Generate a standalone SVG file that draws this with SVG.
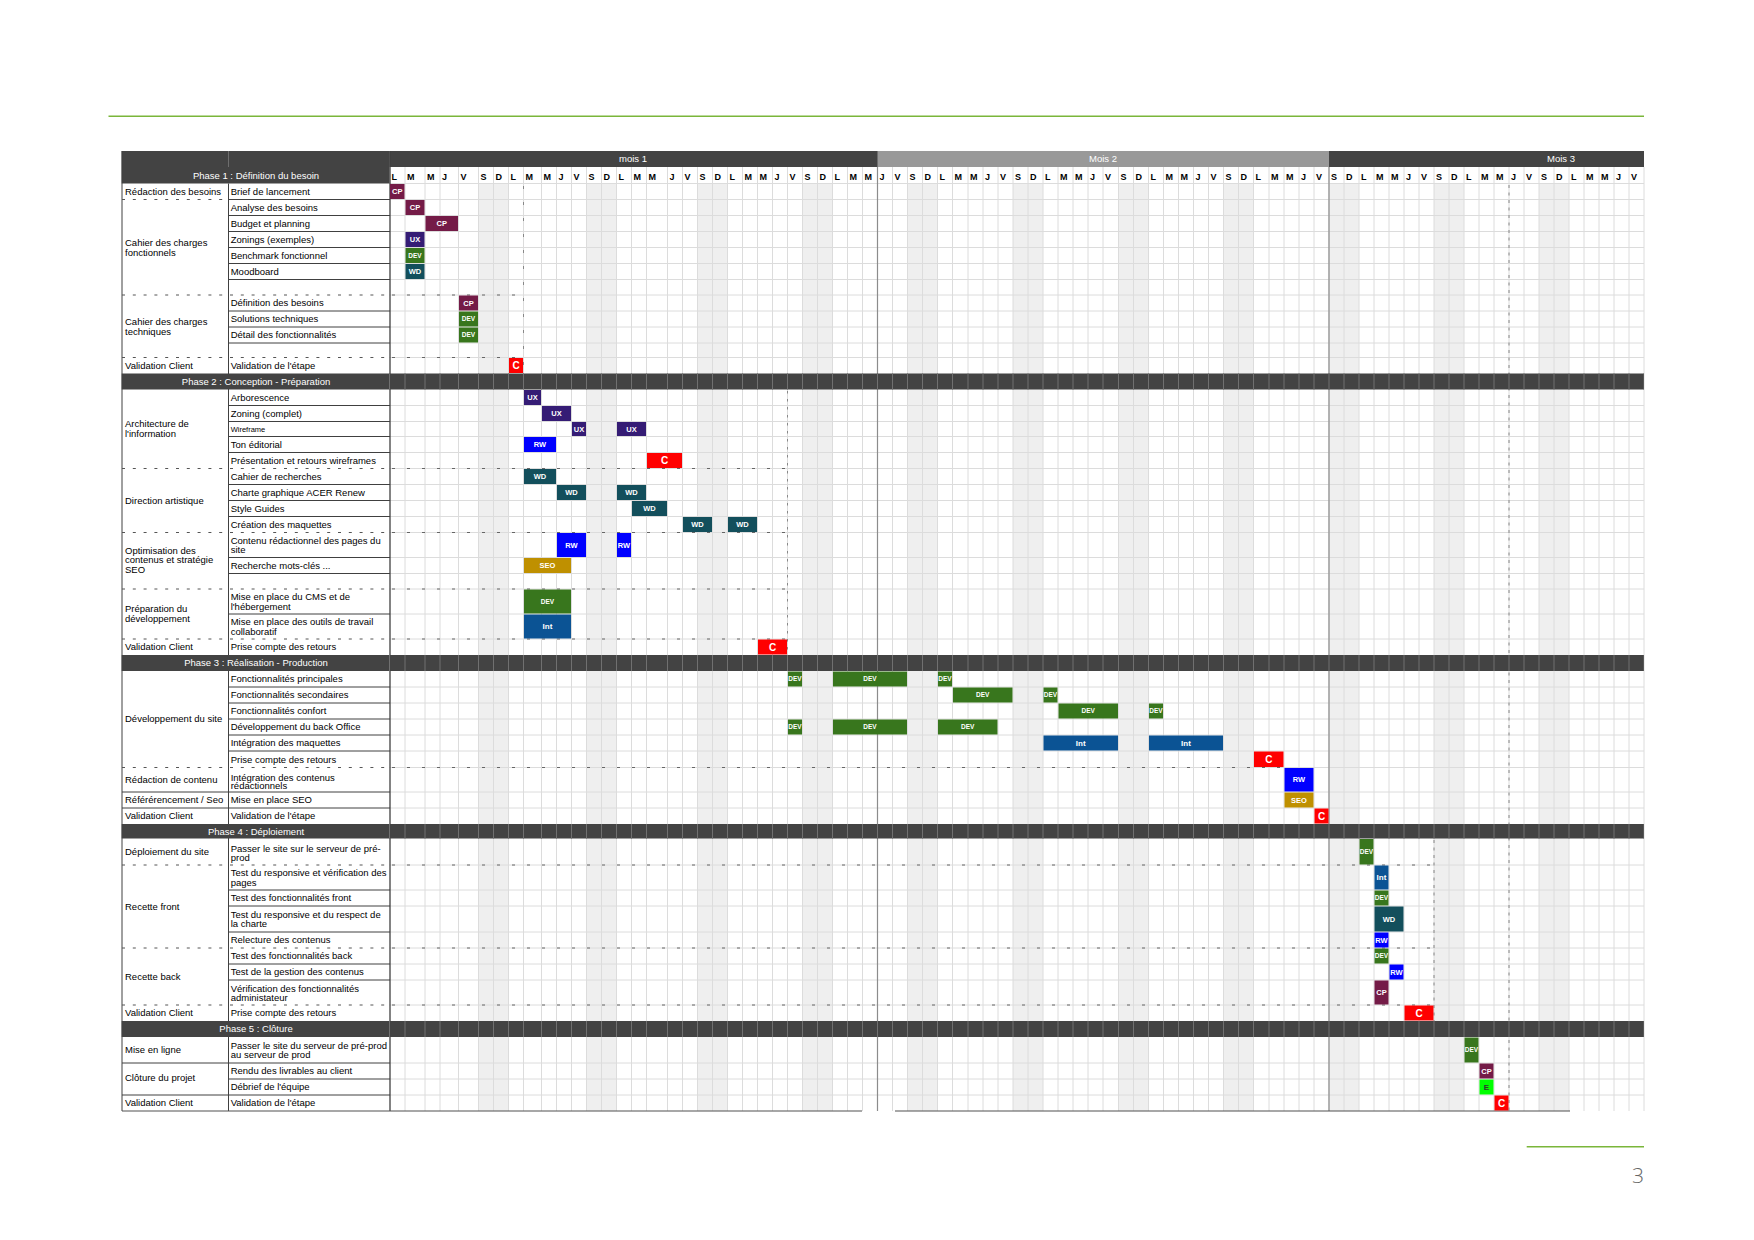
<svg xmlns="http://www.w3.org/2000/svg" xmlns:xlink="http://www.w3.org/1999/xlink" width="1754" height="1240" viewBox="0 0 1754 1240">
<style>
.t{font-family:"Liberation Sans",Arial,sans-serif;font-size:9.5px;fill:#000}
.h{font-family:"Liberation Sans",Arial,sans-serif;font-size:9.5px;fill:#fff;text-anchor:middle}
.d{font-family:"Liberation Sans",Arial,sans-serif;font-size:9px;font-weight:bold;fill:#000}
.lb{font-family:"Liberation Sans",Arial,sans-serif;font-weight:bold;fill:#fff;text-anchor:middle}
.l7{font-size:7.5px}.l6{font-size:6.5px}.l8{font-size:8px}.l10{font-size:10px}
.cp{fill:#741b47}.ux{fill:#351c75}.dv{fill:#38761d}.wd{fill:#134f5c}.rw{fill:#0000ff}.se{fill:#bf9000}.in{fill:#0b5394}.cc{fill:#ff0000}.ee{fill:#00ff00}
.band{fill:#434343}
.sol{stroke:#404040;stroke-width:1;fill:none}
.dc{stroke:#555;stroke-width:1;stroke-dasharray:3 7.8;fill:none}
.dg{stroke:#666;stroke-width:1;stroke-dasharray:3 12;fill:none}
.dv2{stroke:#888;stroke-width:1;fill:none}
</style>
<defs>
<path id="vg" d="M405 167V1111M425 167V1111M440 167V1111M458.5 167V1111M478.5 167V1111M493.5 167V1111M508.5 167V1111M523.5 167V1111M541.5 167V1111M556.5 167V1111M571.5 167V1111M586.5 167V1111M601.5 167V1111M616.5 167V1111M631.5 167V1111M646.5 167V1111M667.5 167V1111M682.5 167V1111M697.5 167V1111M712.5 167V1111M727.5 167V1111M742.5 167V1111M757.5 167V1111M772.5 167V1111M787.5 167V1111M802.5 167V1111M817.5 167V1111M832.5 167V1111M847.5 167V1111M862.5 167V1111M877.5 167V1111M892.5 167V1111M907.5 167V1111M922.5 167V1111M937.5 167V1111M952.5 167V1111M968 167V1111M983 167V1111M998 167V1111M1013 167V1111M1028 167V1111M1043 167V1111M1058 167V1111M1073 167V1111M1088 167V1111M1103 167V1111M1118.5 167V1111M1133.5 167V1111M1148.5 167V1111M1163.5 167V1111M1178.5 167V1111M1193.5 167V1111M1208.5 167V1111M1223.5 167V1111M1238.5 167V1111M1253.5 167V1111M1269 167V1111M1284 167V1111M1299 167V1111M1314 167V1111M1329 167V1111M1344 167V1111M1359 167V1111M1374 167V1111M1389 167V1111M1404 167V1111M1419 167V1111M1434 167V1111M1449 167V1111M1464 167V1111M1479 167V1111M1494 167V1111M1509 167V1111M1524 167V1111M1539 167V1111M1554 167V1111M1569 167V1111M1584 167V1111M1599 167V1111M1614 167V1111M1629 167V1111M1644 167V1111"/>
<clipPath id="bandclip">
<rect x="390" y="373.5" width="1254" height="16"/>
<rect x="390" y="655" width="1254" height="16"/>
<rect x="390" y="824" width="1254" height="14.5"/>
<rect x="390" y="1021" width="1254" height="16"/>
</clipPath>
</defs>
<rect x="0" y="0" width="1754" height="1240" fill="#fff"/>

<!-- page decoration -->
<line x1="108.5" y1="116.3" x2="1644" y2="116.3" stroke="#7ab63a" stroke-width="1.6"/>
<line x1="1526.7" y1="1146.7" x2="1644" y2="1146.7" stroke="#7ab63a" stroke-width="1.6"/>
<text x="1644" y="1183" text-anchor="end" font-family="Open Sans, Liberation Sans, sans-serif" font-weight="300" font-size="21" fill="#666">3</text>

<!-- weekends -->
<g id="weekends" fill="#efefef">
<rect x="478.5" y="183.5" width="30" height="927.5"/>
<rect x="586.5" y="183.5" width="30" height="927.5"/>
<rect x="697.5" y="183.5" width="30" height="927.5"/>
<rect x="802.5" y="183.5" width="30" height="927.5"/>
<rect x="907.5" y="183.5" width="30" height="927.5"/>
<rect x="1013" y="183.5" width="30" height="927.5"/>
<rect x="1118.5" y="183.5" width="30" height="927.5"/>
<rect x="1223.5" y="183.5" width="30" height="927.5"/>
<rect x="1329" y="183.5" width="30" height="927.5"/>
<rect x="1434" y="183.5" width="30" height="927.5"/>
<rect x="1539" y="183.5" width="30" height="927.5"/>
</g>

<!-- grid -->
<g id="grid">
<path stroke="#dcdcdc" stroke-width="1" fill="none" d="M389.5 183.5H1644M389.5 199.5H1644M389.5 215.5H1644M389.5 231.5H1644M389.5 247.5H1644M389.5 263.5H1644M389.5 279.5H1644M389.5 295H1644M389.5 311H1644M389.5 327H1644M389.5 343H1644M389.5 357.5H1644M389.5 405.5H1644M389.5 421.5H1644M389.5 436.5H1644M389.5 452.5H1644M389.5 468.5H1644M389.5 484.5H1644M389.5 500.5H1644M389.5 516.5H1644M389.5 532.5H1644M389.5 557.5H1644M389.5 573.5H1644M389.5 589H1644M389.5 614H1644M389.5 639H1644M389.5 687H1644M389.5 703H1644M389.5 719H1644M389.5 735H1644M389.5 751H1644M389.5 767.5H1644M389.5 792H1644M389.5 808H1644M389.5 865H1644M389.5 890H1644M389.5 906H1644M389.5 932H1644M389.5 948H1644M389.5 964H1644M389.5 980H1644M389.5 1005H1644M389.5 1063H1644M389.5 1079H1644M389.5 1095H1644"/>
<use xlink:href="#vg" href="#vg" stroke="#dcdcdc" stroke-width="1" fill="none"/>
<path stroke="#8c8c8c" stroke-width="1.2" d="M877.5 167V1111M1329 167V1111"/>
</g>

<!-- header -->
<g id="header">
<rect class="band" x="121.7" y="151" width="1522.3" height="16"/>
<rect x="877.5" y="151" width="451.5" height="16" fill="#999"/>
<path stroke="#6e6e6e" d="M228.5 151V167M389.5 151V167"/>
<rect class="band" x="121.7" y="167" width="267.8" height="16.5"/>
<text class="h" x="633" y="162.3">mois 1</text>
<text class="h" x="1103" y="162.3">Mois 2</text>
<text class="h" x="1561" y="162.3">Mois 3</text>
<text class="h" x="256" y="178.7">Phase 1 : Définition du besoin</text>
<text class="d" y="179.5" x="391.5 407 427 442 460.5 480.5 495.5 510.5 525.5 543.5 558.5 573.5 588.5 603.5 618.5 633.5 648.5 669.5 684.5 699.5 714.5 729.5 744.5 759.5 774.5 789.5 804.5 819.5 834.5 849.5 864.5">LMMJVSDLMMJVSDLMMJVSDLMMJVSDLMM</text>
<text class="d" y="179.5" x="879.5 894.5 909.5 924.5 939.5 954.5 970 985 1000 1015 1030 1045 1060 1075 1090 1105 1120.5 1135.5 1150.5 1165.5 1180.5 1195.5 1210.5 1225.5 1240.5 1255.5 1271 1286 1301 1316">JVSDLMMJVSDLMMJVSDLMMJVSDLMMJV</text>
<text class="d" y="179.5" x="1331 1346 1361 1376 1391 1406 1421 1436 1451 1466 1481 1496 1511 1526 1541 1556 1571 1586 1601 1616 1631">SDLMMJVSDLMMJVSDLMMJV</text>
</g>

<!-- left table lines -->
<g id="table-lines">
<path class="sol" d="M122 151V1111M228.5 183.5V1111"/>
<path stroke="#404040" stroke-width="1.3" d="M390 151V1111"/>
<path class="sol" d="M228.5 199.5H390M228.5 215.5H390M228.5 231.5H390M228.5 247.5H390M228.5 263.5H390M228.5 279.5H390M228.5 311H390M228.5 327H390M228.5 343H390M228.5 405.5H390M228.5 421.5H390M228.5 436.5H390M228.5 452.5H390M228.5 484.5H390M228.5 500.5H390M228.5 516.5H390M228.5 557.5H390M228.5 573.5H390M228.5 614H390M228.5 687H390M228.5 703H390M228.5 719H390M228.5 735H390M228.5 751H390M122 792H390M122 808H390M228.5 890H390M228.5 906H390M228.5 932H390M228.5 964H390M228.5 980H390M122 1063H390M228.5 1079H390M122 1095H390"/>
<path stroke="#505050" stroke-width="1.2" d="M122 1111H862M895 1111H1570"/>
<path class="dc" d="M122 199.5H228.5M122 295H390M122 357.5H390M122 468.5H390M122 532.5H390M122 589H390M122 639H390M122 767.5H390M122 865H390M122 948H390M122 1005H390"/>
<path class="dg" d="M392 295H523.5M392 357.5H523.5M392 468.5H787.5M392 532.5H787.5M392 589H787.5M392 639H787.5M392 767.5H1284M392 865H1434M392 948H1434M392 1005H1434"/>
<path class="dv2" stroke-dasharray="3 13" d="M523.5 186V373.5"/>
<path class="dv2" stroke-dasharray="2.5 5.5" d="M787.5 391V655"/>
<path class="dv2" stroke-dasharray="3 4.5" d="M1434 840V1021M1509 185V1111"/>
</g>

<!-- phase bands -->
<g id="phase-bands">
<rect class="band" x="121.7" y="373.5" width="1522.3" height="16"/>
<rect class="band" x="121.7" y="655" width="1522.3" height="16"/>
<rect class="band" x="121.7" y="824" width="1522.3" height="14.5"/>
<rect class="band" x="121.7" y="1021" width="1522.3" height="16"/>
<use xlink:href="#vg" href="#vg" stroke="#707070" stroke-width="1" fill="none" clip-path="url(#bandclip)"/>
<path stroke="#707070" d="M389.5 373.5V389.5M389.5 655V671M389.5 824V838.5M389.5 1021V1037"/>
<text class="h" x="256" y="384.9">Phase 2 : Conception - Préparation</text>
<text class="h" x="256" y="666.4">Phase 3 : Réalisation - Production</text>
<text class="h" x="256" y="834.6">Phase 4 : Déploiement</text>
<text class="h" x="256" y="1032.4">Phase 5 : Clôture</text>
</g>

<!-- group labels (col 1) -->
<g id="groups">
<text class="t" x="125" y="195">Rédaction des besoins</text>
<text class="t" x="125" y="245.6">Cahier des charges<tspan x="125" y="255.6">fonctionnels</tspan></text>
<text class="t" x="125" y="324.6">Cahier des charges<tspan x="125" y="334.6">techniques</tspan></text>
<text class="t" x="125" y="369">Validation Client</text>
<text class="t" x="125" y="426.7">Architecture de<tspan x="125" y="436.7">l'information</tspan></text>
<text class="t" x="125" y="503.5">Direction artistique</text>
<text class="t" x="125" y="553.7">Optimisation des<tspan x="125" y="563.2">contenus et stratégie</tspan><tspan x="125" y="572.7">SEO</tspan></text>
<text class="t" x="125" y="612">Préparation du<tspan x="125" y="622">développement</tspan></text>
<text class="t" x="125" y="650.4">Validation Client</text>
<text class="t" x="125" y="722.4">Développement du site</text>
<text class="t" x="125" y="783.2">Rédaction de contenu</text>
<text class="t" x="125" y="803.4">Référérencement / Seo</text>
<text class="t" x="125" y="819.4">Validation Client</text>
<text class="t" x="125" y="855.1">Déploiement du site</text>
<text class="t" x="125" y="910">Recette front</text>
<text class="t" x="125" y="979.8">Recette back</text>
<text class="t" x="125" y="1016.4">Validation Client</text>
<text class="t" x="125" y="1053.4">Mise en ligne</text>
<text class="t" x="125" y="1081.4">Clôture du projet</text>
<text class="t" x="125" y="1106.4">Validation Client</text>
</g>

<!-- task labels (col 2) -->
<g id="tasks">
<text class="t" x="230.7" y="194.9">Brief de lancement</text>
<text class="t" x="230.7" y="210.9">Analyse des besoins</text>
<text class="t" x="230.7" y="226.9">Budget et planning</text>
<text class="t" x="230.7" y="242.9">Zonings (exemples)</text>
<text class="t" x="230.7" y="258.9">Benchmark fonctionnel</text>
<text class="t" x="230.7" y="274.9">Moodboard</text>
<text class="t" x="230.7" y="306.4">Définition des besoins</text>
<text class="t" x="230.7" y="322.4">Solutions techniques</text>
<text class="t" x="230.7" y="338.4">Détail des fonctionnalités</text>
<text class="t" x="230.7" y="368.9">Validation de l'étape</text>
<text class="t" x="230.7" y="400.9">Arborescence</text>
<text class="t" x="230.7" y="416.9">Zoning (complet)</text>
<text class="t" x="230.7" y="431.6" style="font-size:7.5px">Wireframe</text>
<text class="t" x="230.7" y="447.9">Ton éditorial</text>
<text class="t" x="230.7" y="463.9">Présentation et retours wireframes</text>
<text class="t" x="230.7" y="479.9">Cahier de recherches</text>
<text class="t" x="230.7" y="495.9">Charte graphique ACER Renew</text>
<text class="t" x="230.7" y="511.9">Style Guides</text>
<text class="t" x="230.7" y="527.9">Création des maquettes</text>
<text class="t" x="230.7" y="544">Contenu rédactionnel des pages du<tspan x="230.7" y="553.4">site</tspan></text>
<text class="t" x="230.7" y="568.9">Recherche mots-clés ...</text>
<text class="t" x="230.7" y="600.1">Mise en place du CMS et de<tspan x="230.7" y="610">l'hébergement</tspan></text>
<text class="t" x="230.7" y="625.2">Mise en place des outils de travail<tspan x="230.7" y="634.8">collaboratif</tspan></text>
<text class="t" x="230.7" y="650.4">Prise compte des retours</text>
<text class="t" x="230.7" y="682.4">Fonctionnalités principales</text>
<text class="t" x="230.7" y="698.4">Fonctionnalités secondaires</text>
<text class="t" x="230.7" y="714.4">Fonctionnalités confort</text>
<text class="t" x="230.7" y="730.4">Développement du back Office</text>
<text class="t" x="230.7" y="746.4">Intégration des maquettes</text>
<text class="t" x="230.7" y="762.6">Prise compte des retours</text>
<text class="t" x="230.7" y="780.7">Intégration des contenus<tspan x="230.7" y="788.5">rédactionnels</tspan></text>
<text class="t" x="230.7" y="803.4">Mise en place SEO</text>
<text class="t" x="230.7" y="819.4">Validation de l'étape</text>
<text class="t" x="230.7" y="851.5">Passer le site sur le serveur de pré-<tspan x="230.7" y="860.9">prod</tspan></text>
<text class="t" x="230.7" y="876.2">Test du responsive et vérification des<tspan x="230.7" y="885.8">pages</tspan></text>
<text class="t" x="230.7" y="901.4">Test des fonctionnalités front</text>
<text class="t" x="230.7" y="918">Test du responsive et du respect de<tspan x="230.7" y="927.4">la charte</tspan></text>
<text class="t" x="230.7" y="943.4">Relecture des contenus</text>
<text class="t" x="230.7" y="959.4">Test des fonctionnalités back</text>
<text class="t" x="230.7" y="975.4">Test de la gestion des contenus</text>
<text class="t" x="230.7" y="991.8">Vérification des fonctionnalités<tspan x="230.7" y="1001.2">administateur</tspan></text>
<text class="t" x="230.7" y="1016.4">Prise compte des retours</text>
<text class="t" x="230.7" y="1049">Passer le site du serveur de pré-prod<tspan x="230.7" y="1058.2">au serveur de prod</tspan></text>
<text class="t" x="230.7" y="1074.4">Rendu des livrables au client</text>
<text class="t" x="230.7" y="1090.4">Débrief de l'équipe</text>
<text class="t" x="230.7" y="1106.4">Validation de l'étape</text>
</g>

<!-- bars -->
<g id="bar-brief"><rect class="cp" x="390" y="184" width="14.5" height="15"/><text class="lb l7" x="397.25" y="194.2">CP</text></g>
<g id="bar-analyse"><rect class="cp" x="405.5" y="200" width="19" height="15"/><text class="lb l7" x="415" y="210.2">CP</text></g>
<g id="bar-budget"><rect class="cp" x="425.5" y="216" width="32.5" height="15"/><text class="lb l7" x="441.75" y="226.2">CP</text></g>
<g id="bar-zonings"><rect class="ux" x="405.5" y="232" width="19" height="15"/><text class="lb l7" x="415" y="242.2">UX</text></g>
<g id="bar-benchmark"><rect class="dv" x="405.5" y="248" width="19" height="15"/><text class="lb l6" x="415" y="257.8">DEV</text></g>
<g id="bar-moodboard"><rect class="wd" x="405.5" y="264" width="19" height="15"/><text class="lb l7" x="415" y="274.2">WD</text></g>
<g id="bar-definition"><rect class="cp" x="459" y="295.5" width="19" height="15"/><text class="lb l7" x="468.5" y="305.7">CP</text></g>
<g id="bar-solutions"><rect class="dv" x="459" y="311.5" width="19" height="15"/><text class="lb l6" x="468.5" y="321.3">DEV</text></g>
<g id="bar-detail"><rect class="dv" x="459" y="327.5" width="19" height="15"/><text class="lb l6" x="468.5" y="337.3">DEV</text></g>
<g id="bar-valid1"><rect class="cc" x="509" y="358" width="14" height="15"/><text class="lb l10" x="516" y="369.1">C</text></g>

<g id="bar-arbo"><rect class="ux" x="524" y="390" width="17" height="15"/><text class="lb l7" x="532.5" y="400.2">UX</text></g>
<g id="bar-zoning"><rect class="ux" x="542" y="406" width="29" height="15"/><text class="lb l7" x="556.5" y="416.2">UX</text></g>
<g id="bar-wire1"><rect class="ux" x="572" y="422" width="14" height="14"/><text class="lb l7" x="579" y="431.7">UX</text></g>
<g id="bar-wire2"><rect class="ux" x="617" y="422" width="29" height="14"/><text class="lb l7" x="631.5" y="431.7">UX</text></g>
<g id="bar-ton"><rect class="rw" x="524" y="437" width="32" height="15"/><text class="lb l7" x="540" y="447.2">RW</text></g>
<g id="bar-pres"><rect class="cc" x="647" y="453" width="35" height="15"/><text class="lb l10" x="664.5" y="464.1">C</text></g>
<g id="bar-cahier"><rect class="wd" x="524" y="469" width="32" height="15"/><text class="lb l7" x="540" y="479.2">WD</text></g>
<g id="bar-charte1"><rect class="wd" x="557" y="485" width="29" height="15"/><text class="lb l7" x="571.5" y="495.2">WD</text></g>
<g id="bar-charte2"><rect class="wd" x="617" y="485" width="29" height="15"/><text class="lb l7" x="631.5" y="495.2">WD</text></g>
<g id="bar-style"><rect class="wd" x="632" y="501" width="35" height="15"/><text class="lb l7" x="649.5" y="511.2">WD</text></g>
<g id="bar-crea1"><rect class="wd" x="683" y="517" width="29" height="15"/><text class="lb l7" x="697.5" y="527.2">WD</text></g>
<g id="bar-crea2"><rect class="wd" x="728" y="517" width="29" height="15"/><text class="lb l7" x="742.5" y="527.2">WD</text></g>
<g id="bar-contenu1"><rect class="rw" x="557" y="533" width="29" height="24"/><text class="lb l7" x="571.5" y="547.7">RW</text></g>
<g id="bar-contenu2"><rect class="rw" x="617" y="533" width="14" height="24"/><text class="lb l7" x="624" y="547.7">RW</text></g>
<g id="bar-seo1"><rect class="se" x="524" y="558" width="47" height="15"/><text class="lb l7" x="547.5" y="568.2">SEO</text></g>
<g id="bar-cms"><rect class="dv" x="524" y="589.5" width="47" height="24"/><text class="lb l6" x="547.5" y="603.8">DEV</text></g>
<g id="bar-outils"><rect class="in" x="524" y="614.5" width="47" height="24"/><text class="lb l8" x="547.5" y="629.4">Int</text></g>
<g id="bar-prise2"><rect class="cc" x="758" y="639.5" width="29" height="15"/><text class="lb l10" x="772.5" y="650.6">C</text></g>

<g id="bar-fp1"><rect class="dv" x="788" y="671.5" width="14" height="15"/><text class="lb l6" x="795" y="681.3">DEV</text></g>
<g id="bar-fp2"><rect class="dv" x="833" y="671.5" width="74" height="15"/><text class="lb l6" x="870" y="681.3">DEV</text></g>
<g id="bar-fp3"><rect class="dv" x="938" y="671.5" width="14" height="15"/><text class="lb l6" x="945" y="681.3">DEV</text></g>
<g id="bar-fs1"><rect class="dv" x="953" y="687.5" width="59.5" height="15"/><text class="lb l6" x="982.75" y="697.3">DEV</text></g>
<g id="bar-fs2"><rect class="dv" x="1043.5" y="687.5" width="14" height="15"/><text class="lb l6" x="1050.5" y="697.3">DEV</text></g>
<g id="bar-fc1"><rect class="dv" x="1058.5" y="703.5" width="59.5" height="15"/><text class="lb l6" x="1088.25" y="713.3">DEV</text></g>
<g id="bar-fc2"><rect class="dv" x="1149" y="703.5" width="14" height="15"/><text class="lb l6" x="1156" y="713.3">DEV</text></g>
<g id="bar-bo1"><rect class="dv" x="788" y="719.5" width="14" height="15"/><text class="lb l6" x="795" y="729.3">DEV</text></g>
<g id="bar-bo2"><rect class="dv" x="833" y="719.5" width="74" height="15"/><text class="lb l6" x="870" y="729.3">DEV</text></g>
<g id="bar-bo3"><rect class="dv" x="938" y="719.5" width="59.5" height="15"/><text class="lb l6" x="967.75" y="729.3">DEV</text></g>
<g id="bar-im1"><rect class="in" x="1043.5" y="735.5" width="74.5" height="15"/><text class="lb l8" x="1080.75" y="745.9">Int</text></g>
<g id="bar-im2"><rect class="in" x="1149" y="735.5" width="74" height="15"/><text class="lb l8" x="1186" y="745.9">Int</text></g>
<g id="bar-prise3"><rect class="cc" x="1254" y="751.5" width="29.5" height="15.5"/><text class="lb l10" x="1268.75" y="762.8">C</text></g>
<g id="bar-redac"><rect class="rw" x="1284.5" y="768" width="29" height="23.5"/><text class="lb l7" x="1299" y="782.4">RW</text></g>
<g id="bar-seo2"><rect class="se" x="1284.5" y="792.5" width="29" height="15"/><text class="lb l7" x="1299" y="802.7">SEO</text></g>
<g id="bar-valid3"><rect class="cc" x="1314.5" y="808.5" width="14" height="15"/><text class="lb l10" x="1321.5" y="819.6">C</text></g>

<g id="bar-deploi"><rect class="dv" x="1359.5" y="839" width="14" height="25.5"/><text class="lb l6" x="1366.5" y="854">DEV</text></g>
<g id="bar-tr"><rect class="in" x="1374.5" y="865.5" width="14" height="24"/><text class="lb l8" x="1381.5" y="880.4">Int</text></g>
<g id="bar-tf"><rect class="dv" x="1374.5" y="890.5" width="14" height="15"/><text class="lb l6" x="1381.5" y="900.3">DEV</text></g>
<g id="bar-trc"><rect class="wd" x="1374.5" y="906.5" width="29" height="25"/><text class="lb l7" x="1389" y="921.7">WD</text></g>
<g id="bar-rel"><rect class="rw" x="1374.5" y="932.5" width="14" height="15"/><text class="lb l7" x="1381.5" y="942.7">RW</text></g>
<g id="bar-tb"><rect class="dv" x="1374.5" y="948.5" width="14" height="15"/><text class="lb l6" x="1381.5" y="958.3">DEV</text></g>
<g id="bar-tg"><rect class="rw" x="1389.5" y="964.5" width="14" height="15"/><text class="lb l7" x="1396.5" y="974.7">RW</text></g>
<g id="bar-vf"><rect class="cp" x="1374.5" y="980.5" width="14" height="24"/><text class="lb l7" x="1381.5" y="995.2">CP</text></g>
<g id="bar-prise4"><rect class="cc" x="1404.5" y="1005.5" width="29" height="15"/><text class="lb l10" x="1419" y="1016.6">C</text></g>

<g id="bar-ml"><rect class="dv" x="1464.5" y="1037.5" width="14" height="25"/><text class="lb l6" x="1471.5" y="1052.3">DEV</text></g>
<g id="bar-rendu"><rect class="cp" x="1479.5" y="1063.5" width="14" height="15"/><text class="lb l7" x="1486.5" y="1073.7">CP</text></g>
<g id="bar-debrief"><rect class="ee" x="1479.5" y="1079.5" width="14" height="15"/><text class="lb l8" x="1486.5" y="1089.9" style="fill:#333">E</text></g>
<g id="bar-valid5"><rect class="cc" x="1494.5" y="1095.5" width="14" height="15"/><text class="lb l10" x="1501.5" y="1106.6">C</text></g>

<g id="connectors"/>
</svg>
